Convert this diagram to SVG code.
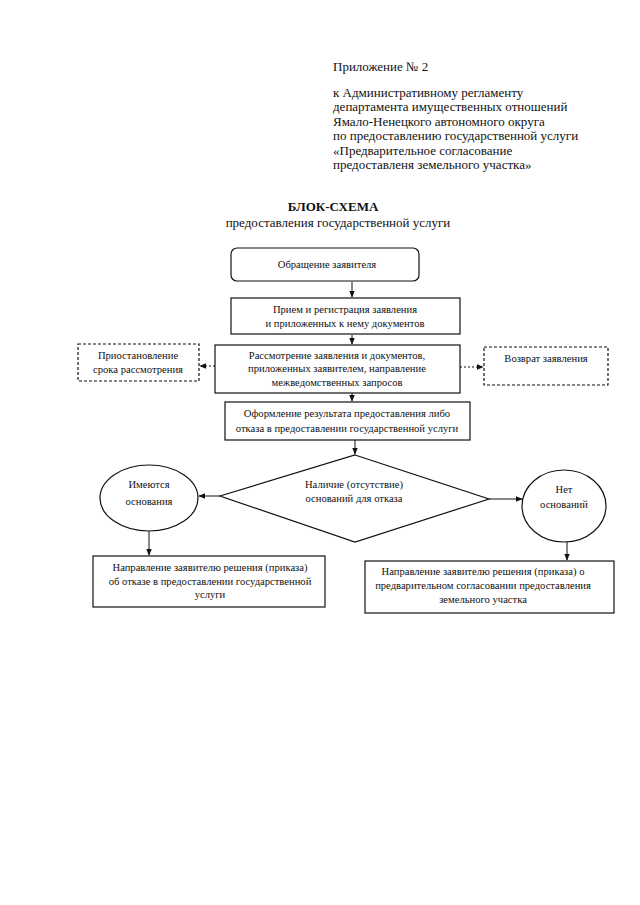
<svg xmlns="http://www.w3.org/2000/svg" width="640" height="905" viewBox="0 0 640 905">
<style>
text{font-family:"Liberation Serif","Times New Roman",serif;fill:#111}
.h{font-size:13px}
.t{font-size:10.6px;text-anchor:middle}
.b{fill:#fff;stroke:#111;stroke-width:1.2}
.d{fill:#fff;stroke:#111;stroke-width:1.2;stroke-dasharray:3,2}
.c{stroke:#111;stroke-width:1;fill:none}
.dot{stroke:#111;stroke-width:1;fill:none;stroke-dasharray:2,2}
</style>
<defs>
<marker id="a" viewBox="0 0 10 10" refX="9" refY="5" markerWidth="7" markerHeight="7" orient="auto"><path d="M0,1 L10,5 L0,9 z" fill="#111"/></marker>
</defs>
<rect width="640" height="905" fill="#fff"/>
<g id="header">
<text class="h" x="333" y="71">Приложение № 2</text>
<text class="h" x="333" y="97">к Административному регламенту</text>
<text class="h" x="333" y="111">департамента имущественных отношений</text>
<text class="h" x="333" y="126">Ямало-Ненецкого автономного округа</text>
<text class="h" x="333" y="140">по предоставлению государственной услуги</text>
<text class="h" x="333" y="155">«Предварительное согласование</text>
<text class="h" x="333" y="169">предоставленя земельного участка»</text>
</g>
<g id="title">
<text x="333" y="211" font-size="13" font-weight="bold" text-anchor="middle">БЛОК-СХЕМА</text>
<text x="338" y="227" font-size="13" text-anchor="middle">предоставления государственной услуги</text>
</g>
<g id="connectors">
<line class="c" x1="352" y1="282" x2="352" y2="297" marker-end="url(#a)"/>
<line class="c" x1="352" y1="335" x2="352" y2="344" marker-end="url(#a)"/>
<line class="dot" x1="215" y1="366" x2="200" y2="366" marker-end="url(#a)"/>
<line class="dot" x1="460" y1="367" x2="483" y2="367" marker-end="url(#a)"/>
<line class="c" x1="352" y1="393" x2="352" y2="401" marker-end="url(#a)"/>
<line class="c" x1="355" y1="440" x2="355" y2="454" marker-end="url(#a)"/>
<line class="c" x1="220" y1="496" x2="199" y2="496" marker-end="url(#a)"/>
<line class="c" x1="489" y1="499" x2="522" y2="499" marker-end="url(#a)"/>
<line class="c" x1="149" y1="531" x2="149" y2="555" marker-end="url(#a)"/>
<line class="c" x1="567" y1="542" x2="567" y2="560" marker-end="url(#a)"/>
</g>
<g id="n1">
<rect class="b" x="231" y="248" width="188" height="33" rx="6"/>
<text class="t" x="327" y="268">Обращение заявителя</text>
</g>
<g id="n2">
<rect class="b" x="231" y="298" width="229" height="36"/>
<text class="t" x="345" y="313">Прием и регистрация заявления</text>
<text class="t" x="345" y="327">и приложенных к нему документов</text>
</g>
<g id="n3">
<rect class="b" x="215" y="345" width="245" height="48"/>
<text class="t" x="337" y="359">Рассмотрение заявления и документов,</text>
<text class="t" x="337" y="372">приложенных заявителем, направление</text>
<text class="t" x="337" y="386">межведомственных запросов</text>
</g>
<g id="n3a">
<rect class="d" x="78" y="344" width="121" height="37"/>
<text class="t" x="138" y="359">Приостановление</text>
<text class="t" x="138" y="373">срока рассмотрения</text>
</g>
<g id="n3b">
<rect class="d" x="484" y="347" width="124" height="38"/>
<text class="t" x="546" y="362">Возврат заявления</text>
</g>
<g id="n4">
<rect class="b" x="225" y="402" width="245" height="38"/>
<text class="t" x="347" y="417">Оформление результата предоставления либо</text>
<text class="t" x="347" y="432">отказа в предоставлении государственной услуги</text>
</g>
<g id="n5">
<polygon class="b" points="355,455 489,499 355,542 220,496"/>
<text class="t" x="354" y="488">Наличие (отсутствие)</text>
<text class="t" x="354" y="502">оснований для отказа</text>
</g>
<g id="n6">
<ellipse class="b" cx="149" cy="498" rx="49" ry="33"/>
<text class="t" x="149" y="488">Имеются</text>
<text class="t" x="149" y="505">основания</text>
</g>
<g id="n7">
<ellipse class="b" cx="564" cy="506" rx="42" ry="36"/>
<text class="t" x="564" y="493">Нет</text>
<text class="t" x="564" y="508">оснований</text>
</g>
<g id="n8">
<rect class="b" x="93" y="556" width="232" height="51"/>
<text class="t" x="210" y="571">Направление заявителю решения (приказа)</text>
<text class="t" x="210" y="585">об отказе в предоставлении государственной</text>
<text class="t" x="210" y="598">услуги</text>
</g>
<g id="n9">
<rect class="b" x="365" y="561" width="249" height="52"/>
<text class="t" x="483" y="575">Направление заявителю решения (приказа) о</text>
<text class="t" x="483" y="589">предварительном согласовании предоставления</text>
<text class="t" x="483" y="603">земельного участка</text>
</g>
</svg>
